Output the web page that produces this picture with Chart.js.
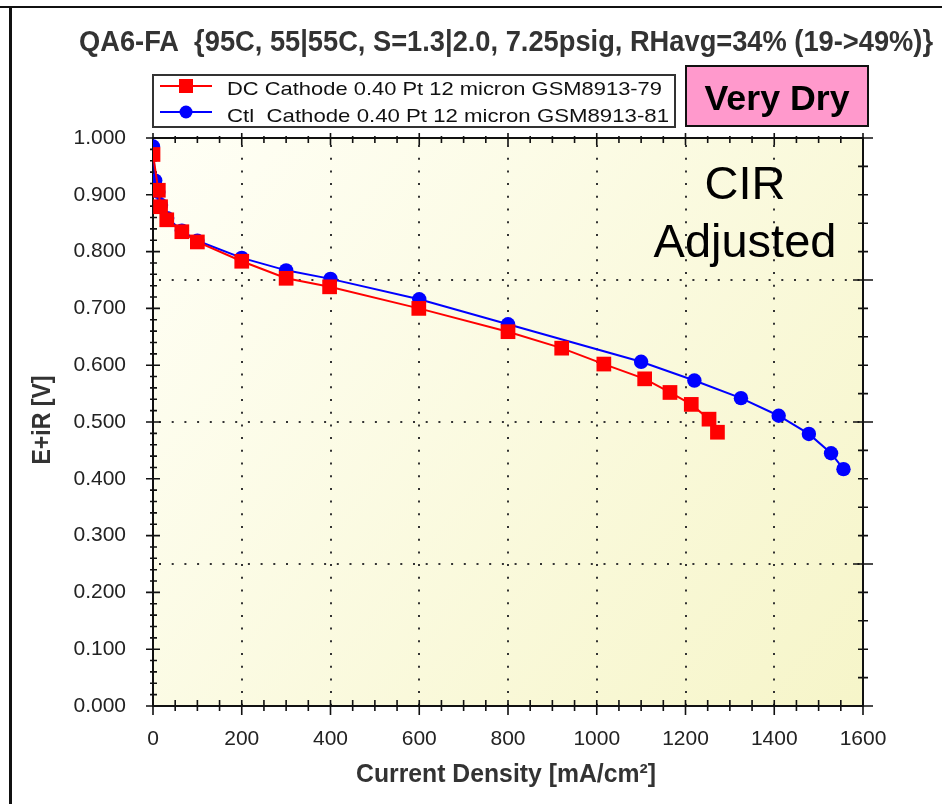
<!DOCTYPE html>
<html>
<head>
<meta charset="utf-8">
<script src="https://cdn.jsdelivr.net/npm/chart.js@4/dist/chart.umd.min.js"></script>
<style>
  html, body { margin: 0; padding: 0; background: #fff; }
  #wrap { width: 942px; height: 804px; }
</style>
</head>
<body>
<div id="wrap"><canvas id="c" width="942" height="804"></canvas></div>
<script>
// ---- data ----
const currentDC = [0, 12, 17, 31, 65, 100, 200, 300, 398, 599, 800, 921, 1016, 1108, 1165, 1213, 1253, 1272];
const voltageDC = [0.971, 0.908, 0.879, 0.856, 0.835, 0.817, 0.783, 0.753, 0.738, 0.700, 0.659, 0.630, 0.602, 0.576, 0.552, 0.531, 0.505, 0.482];

const currentCtl = [0, 5, 12, 18, 32, 65, 100, 200, 300, 400, 600, 800, 1100, 1220, 1325, 1410, 1478, 1528, 1556];
const voltageCtl = [0.985, 0.925, 0.905, 0.882, 0.859, 0.837, 0.819, 0.789, 0.767, 0.752, 0.716, 0.672, 0.606, 0.573, 0.542, 0.511, 0.479, 0.445, 0.417];

const seriesLabels = [
  'DC Cathode 0.40 Pt 12 micron GSM8913-79',
  'Ctl  Cathode 0.40 Pt 12 micron GSM8913-81'
];
const xTickValues = [0, 200, 400, 600, 800, 1000, 1200, 1400, 1600];
const yTickValues = [0, 0.1, 0.2, 0.3, 0.4, 0.5, 0.6, 0.7, 0.8, 0.9, 1.0];
const xGridValues = [200, 400, 600, 800, 1000, 1200, 1400];
const yGridValues = [0.25, 0.5, 0.75];

const titleText = 'QA6-FA  {95C, 55|55C, S=1.3|2.0, 7.25psig, RHavg=34% (19->49%)}';
const xTitle = 'Current Density [mA/cm\u00B2]';
const yTitle = 'E+iR [V]';
const badgeText = 'Very Dry';
const noteLines = ['CIR', 'Adjusted'];

const NARROW = "'Liberation Sans Narrow', 'Liberation Sans', Arial, sans-serif";
const SANS = "'Liberation Sans', Arial, sans-serif";

function toPoints(xs, ys) { return xs.map((x, i) => ({ x: x, y: ys[i] })); }

function fitText(ctx, text, x, y, font, width, align) {
  ctx.save();
  ctx.font = font;
  const w = ctx.measureText(text).width;
  const sx = width / w;
  ctx.translate(x, y);
  ctx.scale(sx, 1);
  ctx.textAlign = align || 'left';
  ctx.fillText(text, 0, 0);
  ctx.restore();
}

const decor = {
  id: 'decor',
  beforeDraw(chart) {
    const { ctx, chartArea: a } = chart;
    ctx.save();
    ctx.fillStyle = '#ffffff';
    ctx.fillRect(0, 0, chart.width, chart.height);
    // outer frame
    ctx.fillStyle = '#111';
    ctx.fillRect(0, 6, chart.width, 2);
    ctx.fillRect(9, 6, 3, chart.height - 6);
    // plot background
    const g = ctx.createLinearGradient(a.left, a.top, a.right, a.bottom);
    g.addColorStop(0, '#FFFFF6');
    g.addColorStop(1, '#F6F5C9');
    ctx.fillStyle = g;
    ctx.fillRect(a.left, a.top, a.right - a.left, a.bottom - a.top);
    ctx.restore();
  },
  beforeDatasetsDraw(chart) {
    const { ctx, chartArea: a, scales: { x, y } } = chart;
    ctx.save();
    // dotted grid
    ctx.strokeStyle = '#333';
    ctx.lineWidth = 2;
    ctx.setLineDash([2, 10.7]);
    xGridValues.forEach(v => {
      const px = Math.round(x.getPixelForValue(v));
      ctx.beginPath(); ctx.moveTo(px, a.top + 7); ctx.lineTo(px, a.bottom); ctx.stroke();
    });
    yGridValues.forEach(v => {
      const py = Math.round(y.getPixelForValue(v));
      ctx.beginPath(); ctx.moveTo(a.left + 6, py); ctx.lineTo(a.right, py); ctx.stroke();
    });
    ctx.setLineDash([]);
    // axis lines
    ctx.strokeStyle = '#111';
    ctx.lineWidth = 2;
    ctx.strokeRect(a.left, a.top, a.right - a.left, a.bottom - a.top);
    // ticks
    ctx.lineWidth = 1.6;
    ctx.beginPath();
    for (let i = 0; i <= 50; i++) {
      const v = i * 0.02, py = y.getPixelForValue(v);
      const major = i % 5 === 0;
      ctx.moveTo(a.left - (major ? 7 : 3), py); ctx.lineTo(a.left + (major ? 7 : 4), py);
    }
    for (let i = 0; i <= 20; i++) {
      const v = i * 0.05, py = y.getPixelForValue(v);
      const major = i % 5 === 0;
      ctx.moveTo(a.right - (major ? 10 : 5), py); ctx.lineTo(a.right + (major ? 10 : 5), py);
    }
    for (let i = 0; i <= 32; i++) {
      const v = i * 50, px = x.getPixelForValue(v);
      const major = i % 4 === 0;
      ctx.moveTo(px, a.top - (major ? 5 : 2)); ctx.lineTo(px, a.top + (major ? 7 : 5));
      ctx.moveTo(px, a.bottom - 6); ctx.lineTo(px, a.bottom + (major ? 9 : 5));
    }
    ctx.stroke();
    ctx.restore();
  },
  afterDraw(chart) {
    const { ctx } = chart;
    const ds = chart.data.datasets;
    ctx.save();
    // title
    ctx.fillStyle = '#333';
    ctx.textBaseline = 'alphabetic';
    fitText(ctx, titleText, 506, 51, 'bold 29px ' + NARROW, 854, 'center');
    // legend box
    ctx.strokeStyle = '#333';
    ctx.lineWidth = 2;
    ctx.strokeRect(153, 75, 522, 52);
    const rows = [86, 112];
    const baselines = [95, 121.5];
    const widths = [435, 442];
    ds.forEach((d, i) => {
      const yy = rows[i];
      ctx.strokeStyle = d.borderColor;
      ctx.lineWidth = 2;
      ctx.beginPath(); ctx.moveTo(160, yy); ctx.lineTo(212, yy); ctx.stroke();
      ctx.fillStyle = d.pointBackgroundColor;
      if (d.pointStyle === 'rect') {
        ctx.fillRect(179, yy - 7, 14, 14);
      } else {
        ctx.beginPath(); ctx.arc(186, yy, 6.5, 0, Math.PI * 2); ctx.fill();
      }
      ctx.fillStyle = '#111';
      fitText(ctx, d.label, 227, baselines[i], '19px ' + SANS, widths[i], 'left');
    });
    // badge
    ctx.fillStyle = '#FF99CC';
    ctx.fillRect(686, 66, 182, 60);
    ctx.strokeStyle = '#111';
    ctx.lineWidth = 2;
    ctx.strokeRect(686, 66, 182, 60);
    ctx.fillStyle = '#000';
    fitText(ctx, badgeText, 777, 110, 'bold 35px ' + SANS, 145, 'center');
    // annotation
    ctx.font = '47px ' + SANS;
    ctx.textAlign = 'center';
    ctx.fillText(noteLines[0], 745, 199);
    ctx.fillText(noteLines[1], 745, 257);
    // axis titles
    ctx.fillStyle = '#333';
    ctx.textBaseline = 'middle';
    fitText(ctx, xTitle, 506, 775, 'bold 26px ' + NARROW, 300, 'center');
    ctx.save();
    ctx.translate(43, 420);
    ctx.rotate(-Math.PI / 2);
    fitText(ctx, yTitle, 0, 0, 'bold 26px ' + NARROW, 89, 'center');
    ctx.restore();
    ctx.restore();
  }
};

new Chart(document.getElementById('c'), {
  type: 'line',
  data: {
    datasets: [
      {
        label: seriesLabels[0],
        data: toPoints(currentDC, voltageDC),
        borderColor: '#FF0000',
        backgroundColor: '#FF0000',
        pointBackgroundColor: '#FF0000',
        pointBorderColor: '#FF0000',
        pointStyle: 'rect',
        pointRadius: 10.4,
        pointBorderWidth: 0,
        borderWidth: 2,
        tension: 0,
        clip: 0
      },
      {
        label: seriesLabels[1],
        data: toPoints(currentCtl, voltageCtl),
        borderColor: '#0000FF',
        backgroundColor: '#0000FF',
        pointBackgroundColor: '#0000FF',
        pointBorderColor: '#0000FF',
        pointStyle: 'circle',
        pointRadius: 7.2,
        pointBorderWidth: 0,
        borderWidth: 2,
        tension: 0,
        clip: 0
      }
    ]
  },
  options: {
    responsive: false,
    animation: false,
    devicePixelRatio: 1,
    layout: { padding: { left: 0, right: 79, top: 138, bottom: 0 } },
    plugins: { legend: { display: false }, title: { display: false }, tooltip: { enabled: false } },
    scales: {
      x: {
        type: 'linear', min: 0, max: 1600, position: 'bottom',
        afterBuildTicks(s) { s.ticks = xTickValues.map(v => ({ value: v })); },
        ticks: { font: { family: SANS, size: 21 }, color: '#222', padding: 21, maxRotation: 0, autoSkip: false,
                 callback: v => String(v) },
        grid: { display: false, drawTicks: false },
        border: { display: false },
        afterFit(s) { s.height = 98; }
      },
      y: {
        type: 'linear', min: 0, max: 1,
        afterBuildTicks(s) { s.ticks = yTickValues.map(v => ({ value: v })); },
        ticks: { font: { family: SANS, size: 21 }, color: '#222', padding: 27, autoSkip: false,
                 callback: v => Number(v).toFixed(3) },
        grid: { display: false, drawTicks: false },
        border: { display: false },
        afterFit(s) { s.width = 153; }
      }
    }
  },
  plugins: [decor]
});
</script>
</body>
</html>
